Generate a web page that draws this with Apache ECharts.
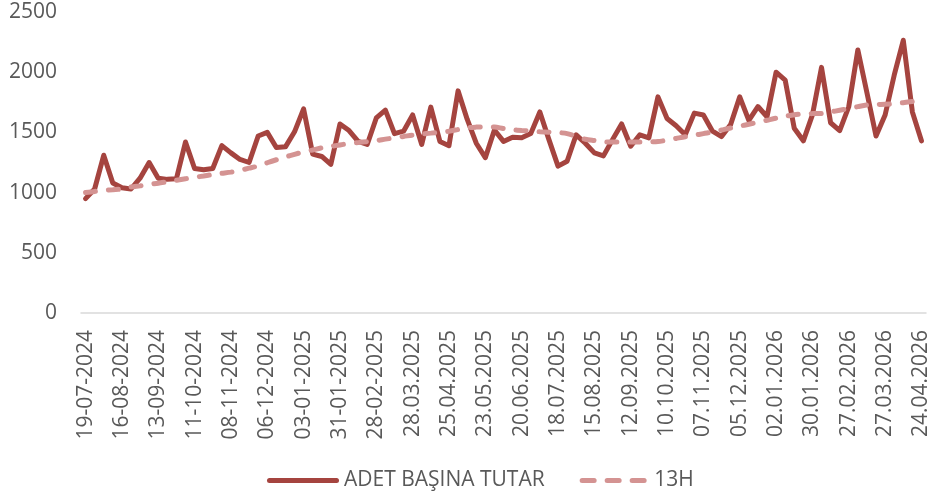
<!DOCTYPE html>
<html>
<head>
<meta charset="utf-8">
<script src="https://cdn.jsdelivr.net/npm/echarts@6/dist/echarts.min.js"></script>
<style>
html,body{margin:0;padding:0;background:#fff;}
#c{width:932px;height:500px;}
</style>
</head>
<body>
<div id="c"></div>
<script>
var categories = [
"19-07-2024","26-07-2024","02-08-2024","09-08-2024","16-08-2024","23-08-2024","30-08-2024","06-09-2024","13-09-2024","20-09-2024","27-09-2024",
"04-10-2024","11-10-2024","18-10-2024","25-10-2024","01-11-2024","08-11-2024","15-11-2024","22-11-2024","29-11-2024","06-12-2024","13-12-2024","20-12-2024","27-12-2024",
"03-01-2025","10-01-2025","17-01-2025","24-01-2025","31-01-2025","07-02-2025","14-02-2025","21-02-2025","28-02-2025",
"07.03.2025","14.03.2025","21.03.2025","28.03.2025","04.04.2025","11.04.2025","18.04.2025","25.04.2025","02.05.2025","09.05.2025","16.05.2025","23.05.2025","30.05.2025",
"06.06.2025","13.06.2025","20.06.2025","27.06.2025","04.07.2025","11.07.2025","18.07.2025","25.07.2025","01.08.2025","08.08.2025","15.08.2025","22.08.2025","29.08.2025",
"05.09.2025","12.09.2025","19.09.2025","26.09.2025","03.10.2025","10.10.2025","17.10.2025","24.10.2025","31.10.2025","07.11.2025","14.11.2025","21.11.2025","28.11.2025",
"05.12.2025","12.12.2025","19.12.2025","26.12.2025","02.01.2026","09.01.2026","16.01.2026","23.01.2026","30.01.2026","06.02.2026","13.02.2026","20.02.2026","27.02.2026",
"06.03.2026","13.03.2026","20.03.2026","27.03.2026","03.04.2026","10.04.2026","17.04.2026","24.04.2026"
];

var adetBasinaTutar = [
950,1030,1310,1080,1040,1030,1120,1250,1120,1110,1115,1420,1200,1190,1200,1390,
1330,1275,1250,1470,1500,1375,1380,1505,1695,1320,1300,1235,1570,1515,1425,1400,
1620,1685,1490,1510,1645,1400,1710,1425,1390,1845,1610,1410,1290,1520,1425,1460,
1455,1490,1670,1440,1220,1260,1480,1410,1330,1305,1440,1570,1385,1480,1455,1795,
1615,1555,1480,1660,1645,1510,1465,1565,1795,1600,1715,1630,2000,1935,1535,1430,
1645,2040,1580,1515,1715,2185,1830,1470,1645,1975,2265,1670,1430
];

var ma13H = [
1000,1010,1018,1024,1030,1046,1056,1068,1078,1090,1102,1115,1127,1138,1150,1160,
1170,1185,1203,1221,1248,1273,1296,1318,1338,1354,1372,1384,1396,1407,1415,1424,
1432,1444,1455,1466,1478,1487,1494,1502,1510,1524,1538,1544,1547,1545,1532,1522,
1516,1511,1506,1502,1499,1490,1468,1443,1432,1423,1420,1420,1420,1420,1421,1424,
1436,1450,1464,1476,1490,1503,1520,1537,1552,1568,1584,1601,1618,1633,1646,1654,
1656,1658,1670,1684,1698,1714,1728,1731,1734,1737,1747,1757,1765
];

var seriesNames = ["ADET BAŞINA TUTAR", "13H"];
var yTicks = {min: 0, max: 2500, interval: 500};

var FONT = "'Open Sans', sans-serif";
var TXT = '#595959';
var C_MAIN = '#A5443F';
var C_MA = '#D49392';

var solidIcon = 'path://M2.5,0 L69.5,0 A2.5,2.5 0 0 1 69.5,5 L2.5,5 A2.5,2.5 0 0 1 2.5,0 Z';
var dashIcon = 'path://M2.5,0 L14.5,0 A2.5,2.5 0 0 1 14.5,5 L2.5,5 A2.5,2.5 0 0 1 2.5,0 Z ' +
  'M27.5,0 L39.5,0 A2.5,2.5 0 0 1 39.5,5 L27.5,5 A2.5,2.5 0 0 1 27.5,0 Z ' +
  'M52.5,0 L64.5,0 A2.5,2.5 0 0 1 64.5,5 L52.5,5 A2.5,2.5 0 0 1 52.5,0 Z';

var chart = echarts.init(document.getElementById('c'), null, {renderer: 'canvas'});
chart.setOption({
  animation: false,
  backgroundColor: '#ffffff',
  textStyle: {fontFamily: FONT},
  grid: {left: 81, right: 6, top: 12, bottom: 187, containLabel: false},
  legend: {
    bottom: 4,
    left: 262,
    itemWidth: 72,
    itemHeight: 5,
    itemGap: 35,
    textStyle: {color: TXT, fontSize: 21, fontFamily: FONT},
    data: [
      {name: seriesNames[0], icon: solidIcon, itemStyle: {color: C_MAIN}},
      {name: seriesNames[1], icon: dashIcon, itemStyle: {color: C_MA}}
    ]
  },
  xAxis: {
    type: 'category',
    data: categories,
    boundaryGap: true,
    axisLine: {show: true, lineStyle: {color: '#D9D9D9', width: 1.5}},
    axisTick: {show: false},
    axisLabel: {
      interval: 3,
      rotate: 90,
      color: TXT,
      fontSize: 21,
      fontFamily: FONT,
      margin: 17
    },
    splitLine: {show: false}
  },
  yAxis: {
    type: 'value',
    min: yTicks.min,
    max: yTicks.max,
    interval: yTicks.interval,
    axisLine: {show: false},
    axisTick: {show: false},
    splitLine: {show: false},
    axisLabel: {color: TXT, fontSize: 21, fontFamily: FONT, margin: 24,
      formatter: function (v) { return String(v); }}
  },
  series: [
    {
      name: seriesNames[0],
      type: 'line',
      data: adetBasinaTutar,
      symbol: 'none',
      lineStyle: {color: C_MAIN, width: 5, cap: 'round', join: 'round'},
      itemStyle: {color: C_MAIN},
      z: 2
    },
    {
      name: seriesNames[1],
      type: 'line',
      data: ma13H,
      symbol: 'none',
      smooth: 0.3,
      lineStyle: {color: C_MA, width: 5, type: [10, 13], cap: 'round'},
      itemStyle: {color: C_MA},
      z: 3
    }
  ]
});
</script>
</body>
</html>
